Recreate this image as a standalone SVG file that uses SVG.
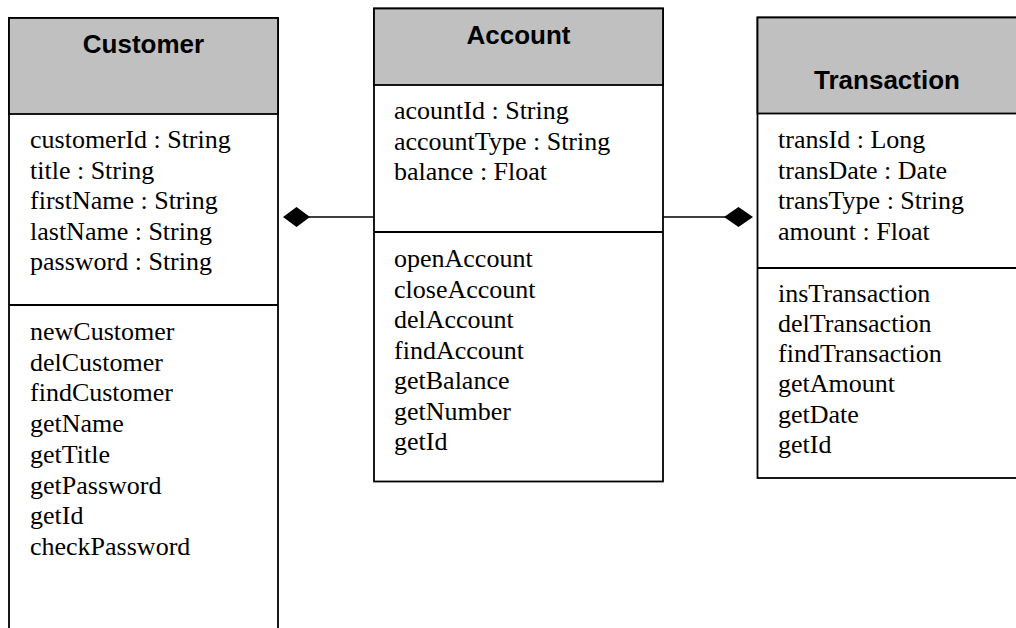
<svg xmlns="http://www.w3.org/2000/svg" width="1016" height="628" viewBox="0 0 1016 628">
<style>
.box{fill:#ffffff;stroke:#000000;stroke-width:1.8}
.hdr{fill:#c0c0c0;stroke:#000000;stroke-width:1.8}
.sep{stroke:#000000;stroke-width:1.8}
.title{font-family:"Liberation Sans",Arial,sans-serif;font-weight:bold;font-size:26px;fill:#000;text-anchor:middle}
.txt{font-family:"Liberation Serif","Times New Roman",serif;font-size:26px;fill:#000}
.conn{stroke:#000000;stroke-width:1.5;fill:none}
.dia{fill:#000000;stroke:none}
</style>
<rect width="1016" height="628" fill="#ffffff"/>
<g id="connectors">
<line class="conn" x1="309" y1="217" x2="374" y2="217"/>
<polygon class="dia" points="283,217 296.5,207 310,217 296.5,227"/>
<line class="conn" x1="663" y1="217" x2="725" y2="217"/>
<polygon class="dia" points="724,217 738.5,207 753,217 738.5,227"/>
</g>
<g id="customer">
<rect class="box" x="9" y="18" width="269" height="640"/>
<rect class="hdr" x="9" y="18" width="269" height="96"/>
<line class="sep" x1="9" y1="305" x2="278" y2="305"/>
<text class="title" x="143.5" y="53">Customer</text>
<text class="txt" x="30" y="148">customerId : String</text>
<text class="txt" x="30" y="178.6">title : String</text>
<text class="txt" x="30" y="209.2">firstName : String</text>
<text class="txt" x="30" y="239.8">lastName : String</text>
<text class="txt" x="30" y="270.4">password : String</text>
<text class="txt" x="30" y="340">newCustomer</text>
<text class="txt" x="30" y="370.7">delCustomer</text>
<text class="txt" x="30" y="401.4">findCustomer</text>
<text class="txt" x="30" y="432.1">getName</text>
<text class="txt" x="30" y="462.8">getTitle</text>
<text class="txt" x="30" y="493.5">getPassword</text>
<text class="txt" x="30" y="524.2">getId</text>
<text class="txt" x="30" y="554.9">checkPassword</text>
</g>
<g id="account">
<rect class="box" x="374" y="8.5" width="289" height="473"/>
<rect class="hdr" x="374" y="8.5" width="289" height="76.5"/>
<line class="sep" x1="374" y1="232" x2="663" y2="232"/>
<text class="title" x="518.5" y="44">Account</text>
<text class="txt" x="394" y="119">acountId : String</text>
<text class="txt" x="394" y="149.5">accountType : String</text>
<text class="txt" x="394" y="180">balance : Float</text>
<text class="txt" x="394" y="267">openAccount</text>
<text class="txt" x="394" y="297.5">closeAccount</text>
<text class="txt" x="394" y="328">delAccount</text>
<text class="txt" x="394" y="358.5">findAccount</text>
<text class="txt" x="394" y="389">getBalance</text>
<text class="txt" x="394" y="419.5">getNumber</text>
<text class="txt" x="394" y="450">getId</text>
</g>
<g id="transaction">
<rect class="box" x="757.5" y="17.5" width="270" height="460.5"/>
<rect class="hdr" x="757.5" y="17.5" width="270" height="96"/>
<line class="sep" x1="757.5" y1="268" x2="1027" y2="268"/>
<text class="title" x="887" y="89">Transaction</text>
<text class="txt" x="778" y="148">transId : Long</text>
<text class="txt" x="778" y="178.6">transDate : Date</text>
<text class="txt" x="778" y="209.2">transType : String</text>
<text class="txt" x="778" y="239.8">amount : Float</text>
<text class="txt" x="778" y="301.5">insTransaction</text>
<text class="txt" x="778" y="331.8">delTransaction</text>
<text class="txt" x="778" y="362.1">findTransaction</text>
<text class="txt" x="778" y="392.4">getAmount</text>
<text class="txt" x="778" y="422.7">getDate</text>
<text class="txt" x="778" y="453">getId</text>
</g>
</svg>
